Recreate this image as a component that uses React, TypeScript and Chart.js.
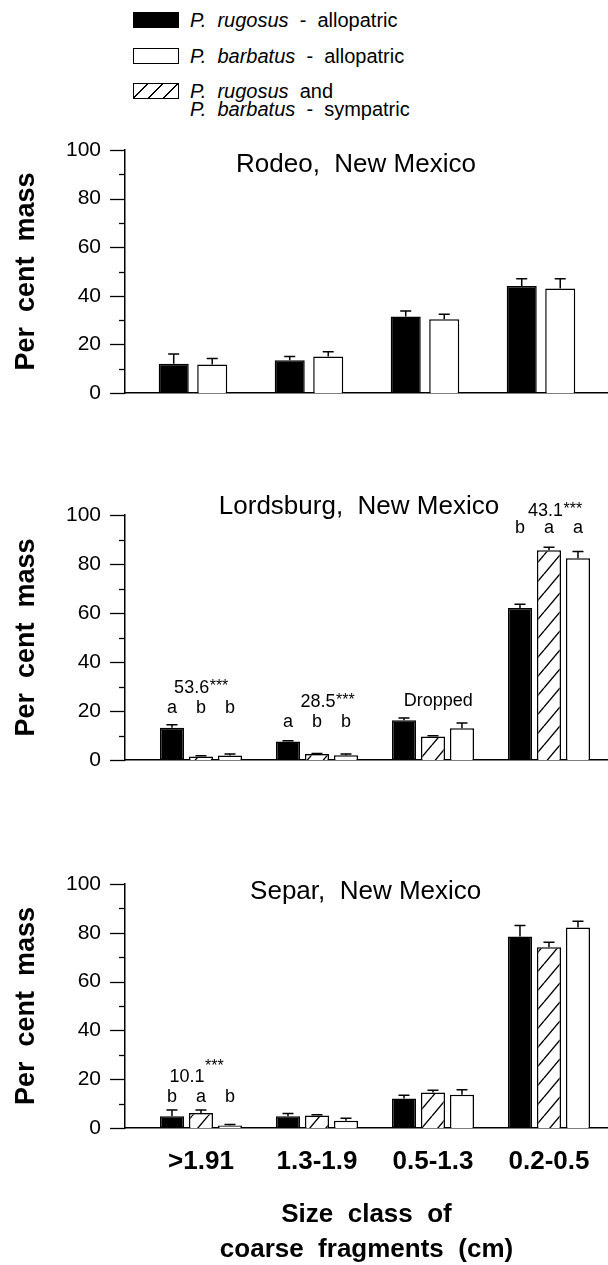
import React, { useEffect, useRef } from 'react';
import { Chart, registerables } from 'chart.js';

Chart.register(...registerables);

const FONT = '"Liberation Sans", Arial, Helvetica, sans-serif';

// ---------- data ----------
const categories = ['>1.91', '1.3-1.9', '0.5-1.3', '0.2-0.5'];
const yTickValues = [0, 20, 40, 60, 80, 100];

// Rodeo (allopatric only)
const rodeoRugosus = [12, 13.5, 31.5, 44];
const rodeoRugosusSE = [4, 1.5, 2.2, 3];
const rodeoBarbatus = [11.7, 15, 30.4, 43];
const rodeoBarbatusSE = [2.5, 2, 2, 4];

// Lordsburg
const lordsburgRugosus = [13.2, 7.6, 16.2, 62];
const lordsburgRugosusSE = [1.2, 0.3, 0.9, 1.6];
const lordsburgSympatric = [1.4, 2.4, 9.6, 85.6];
const lordsburgSympatricSE = [0.3, 0.3, 0.3, 1.2];
const lordsburgBarbatus = [1.8, 1.9, 13, 82.3];
const lordsburgBarbatusSE = [0.6, 0.5, 2.1, 2.8];

// Separ
const separRugosus = [4.8, 4.8, 12.1, 78.5];
const separRugosusSE = [2.6, 1.1, 1.3, 4.5];
const separSympatric = [6.1, 5.1, 14.6, 74.1];
const separSympatricSE = [1.3, 0.3, 0.9, 2];
const separBarbatus = [1.0, 3.0, 13.6, 82.2];
const separBarbatusSE = [0.4, 1, 2.1, 2.5];

// statistics and letters
const lordsburgStats = ['53.6', '28.5', 'Dropped', '43.1'];
const lordsburgStars = ['***', '***', '', '***'];
const lordsburgLetters = [['a', 'b', 'b'], ['a', 'b', 'b'], [], ['b', 'a', 'a']];
const separStats = ['10.1', '', '', ''];
const separStars = ['***', '', '', ''];
const separLetters = [['b', 'a', 'b'], [], [], []];

// ---------- helpers ----------
type Kind = 'black' | 'white' | 'hatch';
type Series = { values: number[]; se: number[]; kind: Kind };
type Ann = { stats: string[]; stars: string[]; letters: string[][]; statY: number[]; statDx: number[]; letterY: number[]; starRaise: number[] };
type Panel = {
  top: number; height: number; padTop: number; xAxisHeight: number;
  xMin: number; catPct: number; barPct: number; showLabels: boolean;
  title: string; titleX: number; titleY: number;
  series: Series[]; ann?: Ann; xTitle?: boolean;
};

const SPAN = 483 / 116;

const PANELS: Panel[] = [
  {
    top: 130, height: 279, padTop: 20, xAxisHeight: 16, xMin: -0.586, catPct: 0.664, barPct: 0.78,
    showLabels: false, title: 'Rodeo,  New Mexico', titleX: 1.405, titleY: 93.8,
    series: [
      { values: rodeoRugosus, se: rodeoRugosusSE, kind: 'black' },
      { values: rodeoBarbatus, se: rodeoBarbatusSE, kind: 'white' },
    ],
  },
  {
    top: 460, height: 316, padTop: 55, xAxisHeight: 16, xMin: -0.655, catPct: 0.75, barPct: 0.83,
    showLabels: false, title: 'Lordsburg,  New Mexico', titleX: 1.362, titleY: 103.3,
    series: [
      { values: lordsburgRugosus, se: lordsburgRugosusSE, kind: 'black' },
      { values: lordsburgSympatric, se: lordsburgSympatricSE, kind: 'hatch' },
      { values: lordsburgBarbatus, se: lordsburgBarbatusSE, kind: 'white' },
    ],
    ann: {
      stats: lordsburgStats, stars: lordsburgStars, letters: lordsburgLetters,
      statY: [29.5, 23.7, 23.9, 101.8], statDx: [0, 0.09, 0.045, 0.05],
      letterY: [21.3, 15.3, 0, 94.6], starRaise: [1, 1, 0, 1],
    },
  },
  {
    top: 850, height: 415, padTop: 34, xAxisHeight: 137, xMin: -0.655, catPct: 0.75, barPct: 0.83,
    showLabels: true, title: 'Separ,  New Mexico', titleX: 1.42, titleY: 96.7, xTitle: true,
    series: [
      { values: separRugosus, se: separRugosusSE, kind: 'black' },
      { values: separSympatric, se: separSympatricSE, kind: 'hatch' },
      { values: separBarbatus, se: separBarbatusSE, kind: 'white' },
    ],
    ann: {
      stats: separStats, stars: separStars, letters: separLetters,
      statY: [20.9, 0, 0, 0], statDx: [-0.04, 0, 0, 0],
      letterY: [12.8, 0, 0, 0], starRaise: [10.5, 0, 0, 0],
    },
  },
];

function makeHatch(): CanvasPattern | string {
  const c = document.createElement('canvas');
  const w = 16, h = 19;
  c.width = w; c.height = h;
  const g = c.getContext('2d');
  if (!g) return '#fff';
  g.fillStyle = '#fff';
  g.fillRect(0, 0, w, h);
  g.strokeStyle = '#000';
  g.lineWidth = 1.4;
  g.beginPath();
  for (const dx of [-w, 0, w]) { g.moveTo(dx, h); g.lineTo(dx + w, 0); }
  g.stroke();
  return g.createPattern(c, 'repeat') || '#fff';
}

function drawStat(ctx: CanvasRenderingContext2D, cx: number, cy: number, num: string, stars: string, raise: number) {
  ctx.textAlign = 'left';
  ctx.textBaseline = 'middle';
  ctx.font = `18px ${FONT}`;
  const nw = ctx.measureText(num).width;
  ctx.font = `16px ${FONT}`;
  const sw = stars ? ctx.measureText(stars).width : 0;
  const x0 = cx - (nw + sw) / 2;
  ctx.font = `18px ${FONT}`;
  ctx.fillText(num, x0, cy);
  if (stars) {
    ctx.font = `16px ${FONT}`;
    ctx.fillText(stars, x0 + nw + 0.5, cy - raise);
  }
}

function makePlugin(p: Panel) {
  return {
    id: 'decor',
    afterDatasetsDraw(chart: any) {
      const ctx: CanvasRenderingContext2D = chart.ctx;
      const xs = chart.scales.x;
      const ys = chart.scales.y;
      const area = chart.chartArea;
      ctx.save();
      ctx.strokeStyle = '#000';
      ctx.fillStyle = '#000';
      // error bars (upper whisker with cap)
      ctx.lineWidth = 1.5;
      chart.data.datasets.forEach((ds: any, i: number) => {
        const meta = chart.getDatasetMeta(i);
        meta.data.forEach((bar: any, j: number) => {
          const v = ds.data[j].y;
          const yTop = ys.getPixelForValue(v + ds.se[j]);
          const yBar = ys.getPixelForValue(v);
          ctx.beginPath();
          ctx.moveTo(bar.x, yBar);
          ctx.lineTo(bar.x, yTop);
          ctx.moveTo(bar.x - 5.5, yTop);
          ctx.lineTo(bar.x + 5.5, yTop);
          ctx.stroke();
        });
      });
      // y ticks (major + minor)
      ctx.lineWidth = 1.3;
      for (let v = 0; v <= 100; v += 10) {
        const len = v % 20 === 0 ? 15 : 6;
        const py = Math.round(ys.getPixelForValue(v)) + 0.5;
        ctx.beginPath();
        ctx.moveTo(area.left - len, py);
        ctx.lineTo(area.left, py);
        ctx.stroke();
      }
      // panel title
      ctx.textAlign = 'center';
      ctx.textBaseline = 'middle';
      ctx.font = `26px ${FONT}`;
      ctx.fillText(p.title, xs.getPixelForValue(p.titleX), ys.getPixelForValue(p.titleY));
      // annotations
      if (p.ann) {
        const a = p.ann;
        const meta0 = chart.getDatasetMeta(0);
        const chunk = chart.getDatasetMeta(1).data[0].x - meta0.data[0].x;
        for (let c = 0; c < categories.length; c++) {
          const cx = xs.getPixelForValue(c);
          if (a.stats[c]) {
            drawStat(ctx, xs.getPixelForValue(c + a.statDx[c]), ys.getPixelForValue(a.statY[c]), a.stats[c], a.stars[c], a.starRaise[c]);
          }
          ctx.font = `18px ${FONT}`;
          ctx.textAlign = 'center';
          ctx.textBaseline = 'middle';
          a.letters[c].forEach((l, k) => {
            ctx.fillText(l, cx + (k - 1) * chunk, ys.getPixelForValue(a.letterY[c]));
          });
        }
      }
      // y axis title
      ctx.save();
      ctx.translate(27, (area.top + area.bottom) / 2);
      ctx.rotate(-Math.PI / 2);
      ctx.font = `bold 27px ${FONT}`;
      ctx.textAlign = 'center';
      ctx.textBaseline = 'middle';
      ctx.fillText('Per  cent  mass', 0, 0);
      ctx.restore();
      // x axis title
      if (p.xTitle) {
        ctx.font = `bold 26px ${FONT}`;
        ctx.textAlign = 'center';
        ctx.textBaseline = 'middle';
        const mx = (area.left + area.right) / 2;
        ctx.fillText('Size  class  of', mx, 1215 - p.top);
        ctx.fillText('coarse  fragments  (cm)', mx, 1250 - p.top);
      }
      ctx.restore();
    },
  };
}

function buildChart(canvas: HTMLCanvasElement, p: Panel, hatch: CanvasPattern | string) {
  const fill = (k: Kind) => (k === 'black' ? '#000' : k === 'white' ? '#fff' : hatch);
  return new Chart(canvas, {
    type: 'bar',
    data: {
      datasets: p.series.map((s) => ({
        data: s.values.map((v, i) => ({ x: i, y: v })),
        se: s.se,
        backgroundColor: fill(s.kind),
        borderColor: '#000',
        borderWidth: 1.5,
        categoryPercentage: p.catPct,
        barPercentage: p.barPct,
      })) as any,
    },
    options: {
      responsive: false,
      maintainAspectRatio: false,
      animation: false,
      events: [],
      layout: { padding: { top: p.padTop, right: 0, bottom: 0, left: 0 } },
      plugins: { legend: { display: false }, tooltip: { enabled: false }, title: { display: false } },
      scales: {
        x: {
          type: 'linear',
          offset: false,
          min: p.xMin,
          max: p.xMin + SPAN,
          grid: { display: false, drawTicks: true, tickLength: 16, offset: false },
          border: { display: true, color: '#000', width: 1.5 },
          afterBuildTicks: (s: any) => { s.ticks = categories.map((_, i) => ({ value: i })); },
          afterFit: (s: any) => { s.height = p.xAxisHeight; },
          ticks: {
            display: p.showLabels,
            autoSkip: false,
            maxRotation: 0,
            padding: 2,
            color: '#000',
            font: { family: FONT, size: 26, weight: 'bold' },
            callback: (v: any) => categories[Math.round(Number(v))] ?? '',
          },
        },
        y: {
          min: 0,
          max: 100,
          grid: { display: false, drawTicks: true, tickLength: 22 },
          border: { display: true, color: '#000', width: 1.5 },
          afterBuildTicks: (s: any) => { s.ticks = yTickValues.map((v) => ({ value: v })); },
          afterFit: (s: any) => { s.width = 125; },
          ticks: { padding: 2, color: '#000', font: { family: FONT, size: 21 } },
        },
      },
    } as any,
    plugins: [makePlugin(p) as any],
  });
}

const legendText: React.CSSProperties = {
  position: 'absolute', left: 190, height: 24, lineHeight: '24px', fontSize: 20,
  fontFamily: FONT, color: '#000', whiteSpace: 'pre',
};
const swatch: React.CSSProperties = {
  position: 'absolute', left: 133, width: 46, height: 16, boxSizing: 'border-box', border: '1.5px solid #000',
};

export default function App() {
  const r0 = useRef<HTMLCanvasElement>(null);
  const r1 = useRef<HTMLCanvasElement>(null);
  const r2 = useRef<HTMLCanvasElement>(null);
  const refs = [r0, r1, r2];

  useEffect(() => {
    Chart.defaults.font.family = FONT;
    const hatch = makeHatch();
    const charts = PANELS.map((p, i) => buildChart(refs[i].current as HTMLCanvasElement, p, hatch));
    return () => charts.forEach((c) => c.destroy());
  }, []);

  return (
    <div style={{ position: 'absolute', left: 0, top: 0, width: 608, height: 1265, overflow: 'hidden', background: '#fff' }}>
      {/* legend */}
      <div style={{ ...swatch, top: 12, background: '#000' }} />
      <div style={{ ...legendText, top: 8 }}><i>P.  rugosus</i>  -  allopatric</div>
      <div style={{ ...swatch, top: 48, background: '#fff' }} />
      <div style={{ ...legendText, top: 44 }}><i>P.  barbatus</i>  -  allopatric</div>
      <div style={{ ...swatch, top: 83, background: 'repeating-linear-gradient(135deg, #fff 0px, #fff 9px, #000 9px, #000 10.5px)' }} />
      <div style={{ ...legendText, top: 79 }}><i>P.  rugosus</i>  and</div>
      <div style={{ ...legendText, top: 97 }}><i>P.  barbatus</i>  -  sympatric</div>
      {PANELS.map((p, i) => (
        <canvas
          key={i}
          ref={refs[i]}
          width={608}
          height={p.height}
          style={{ position: 'absolute', left: 0, top: p.top, width: 608, height: p.height }}
        />
      ))}
    </div>
  );
}
